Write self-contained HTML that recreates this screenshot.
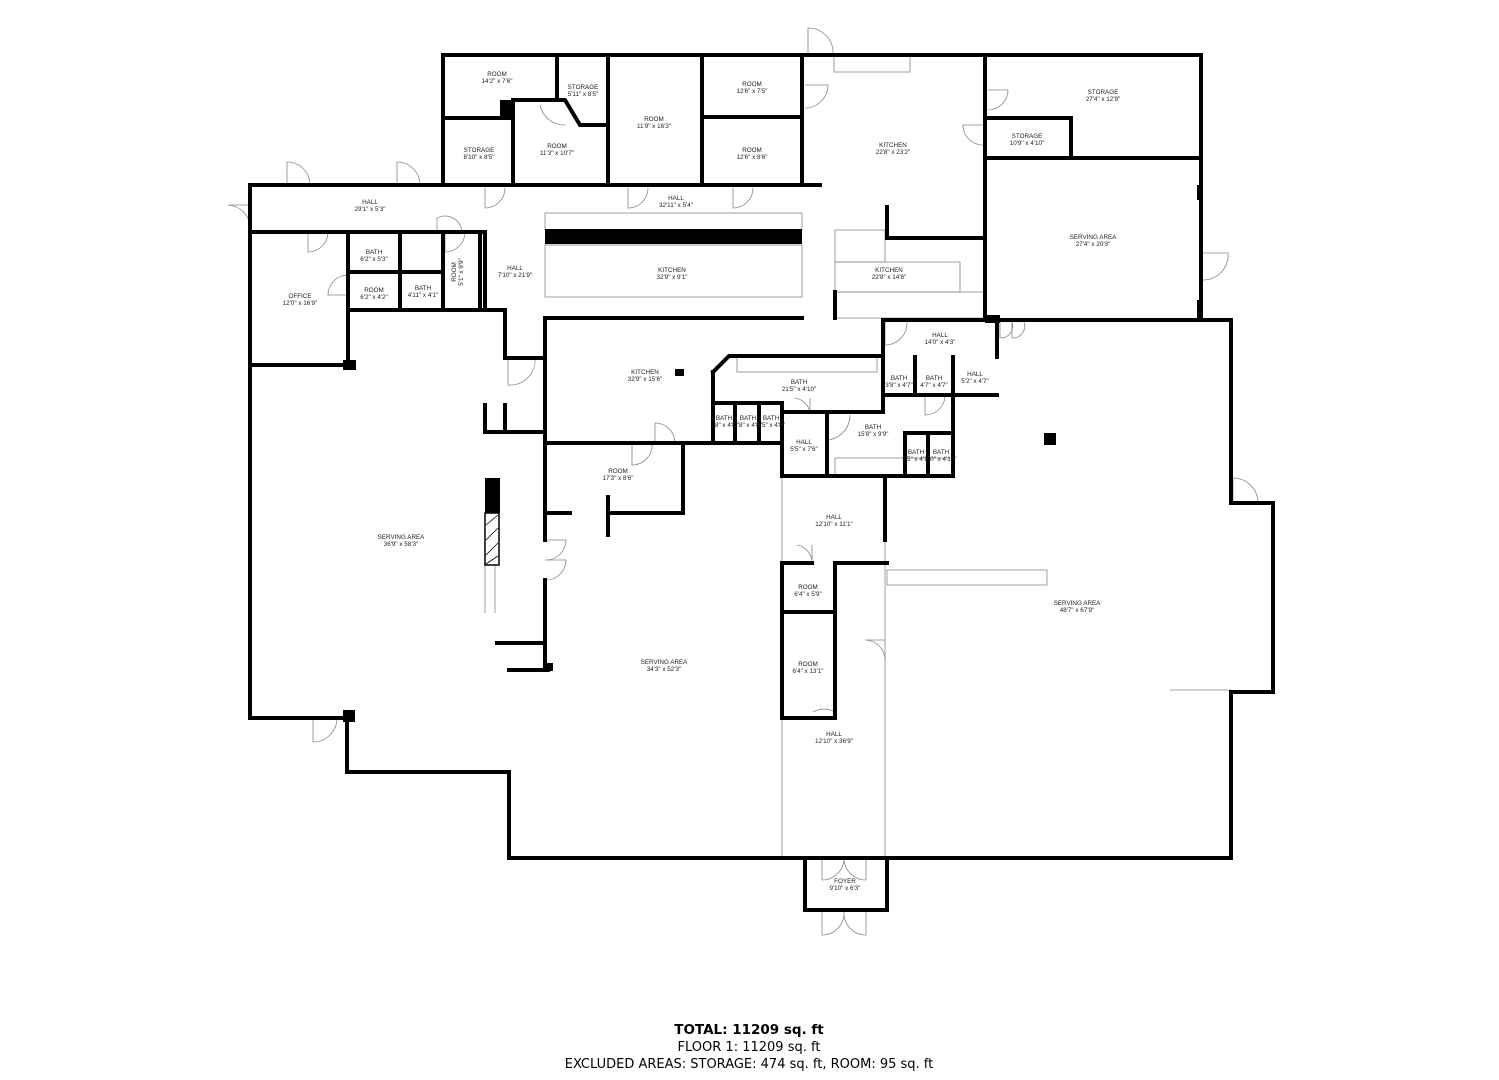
<!DOCTYPE html>
<html><head><meta charset="utf-8"><style>
html,body{margin:0;padding:0;background:#fff;width:1499px;height:1080px;overflow:hidden}
svg{position:absolute;left:0;top:0}
.w{fill:none;stroke:#000;stroke-width:4;stroke-linecap:square}
.t{fill:none;stroke:#888;stroke-width:0.8}
.l{font-family:"Liberation Sans",sans-serif;font-size:6.3px;fill:#222;text-anchor:middle}
.b{font-family:"DejaVu Sans",sans-serif;text-anchor:middle;fill:#000}
</style></head><body>
<svg width="1499" height="1080" viewBox="0 0 1499 1080">
<g class="t">
<path d="M287,185 V162 A23,23 0 0 1 310,185"/>
<path d="M397,185 V162 A23,23 0 0 1 420,185"/>
<path d="M250,205 H228 A23,23 0 0 1 250,228"/>
<path d="M485,188 V208 A20,20 0 0 0 505,188"/>
<path d="M628,188 V208 A20,20 0 0 0 648,188"/>
<path d="M733,188 V208 A20,20 0 0 0 753,188"/>
<path d="M808,55 V28 A25,25 0 0 1 833,55"/>
<path d="M805,85 H828 A23,23 0 0 1 805,108"/>
<path d="M988,90 H1008 A20,20 0 0 1 988,110"/>
<path d="M983,125 H963 A20,20 0 0 0 983,145"/>
<path d="M1203,253 H1228 A25,25 0 0 1 1203,280"/>
<path d="M1000,322 V338 A12,12 0 0 0 1012,322 M1012,322 V338 A12,12 0 0 0 1024,322"/>
<path d="M885,322 V345 A22,22 0 0 0 907,322"/>
<path d="M308,232 V252 A20,20 0 0 0 328,232"/>
<path d="M437,232 V218 A17,17 0 0 1 462,232"/>
<path d="M445,232 V252 A20,20 0 0 0 465,232"/>
<path d="M348,295 H328 A20,20 0 0 1 348,275"/>
<path d="M508,358 V385 A25,25 0 0 0 535,358"/>
<path d="M313,718 V742 A24,24 0 0 0 337,718"/>
<path d="M655,443 V423 A20,20 0 0 1 675,443"/>
<path d="M632,443 V465 A20,20 0 0 0 652,443"/>
<path d="M545,540 H566 A20,20 0 0 1 545,560 M545,560 H566 A20,20 0 0 1 545,580"/>
<path d="M812,545 V563 A18,18 0 0 0 797,545"/>
<path d="M885,640 H865 A20,20 0 0 1 885,660"/>
<path d="M835,690 V712 A22,22 0 0 0 813,712"/>
<path d="M1233,503 V478 A25,25 0 0 1 1258,503"/>
<path d="M822,860 V880 A22,22 0 0 0 844,860 M866,860 V880 A22,22 0 0 1 844,860"/>
<path d="M822,912 V935 A22,22 0 0 0 844,912 M866,912 V935 A22,22 0 0 1 844,912"/>
<path d="M925,397 V415 A20,20 0 0 0 945,397"/>
<path d="M810,398 V412 A18,18 0 0 0 795,398"/>
<path d="M827,415 V440 A25,25 0 0 0 850,415"/>
<path d="M540,105 A25,25 0 0 0 565,125"/>
<rect x="545" y="213" width="257" height="17"/>
<rect x="545" y="245" width="257" height="52"/>
<rect x="835" y="230" width="50" height="32"/>
<rect x="835" y="262" width="125" height="30"/>
<rect x="835" y="292" width="150" height="26"/>
<rect x="834" y="55" width="76" height="17"/>
<rect x="887" y="570" width="160" height="15"/>
<rect x="835" y="458" width="118" height="18"/>
<rect x="737" y="357" width="140" height="15"/>
<line x1="1170" y1="690" x2="1231" y2="690"/>
<line x1="485" y1="565" x2="485" y2="613"/><line x1="495" y1="565" x2="495" y2="613"/>
<line x1="782" y1="476" x2="782" y2="563"/><line x1="782" y1="718" x2="782" y2="858"/>
<line x1="885" y1="476" x2="885" y2="858"/>
</g>
<rect x="485" y="513" width="14" height="52" fill="none" stroke="#000" stroke-width="1.5"/>
<path d="M486,525 L498,515 M486,540 L498,528 M486,555 L498,543 M486,564 L498,556" stroke="#000" stroke-width="0.8"/>
<g fill="#000">
<rect x="545" y="229" width="257" height="15"/>
<rect x="500" y="100" width="15" height="18"/>
<rect x="485" y="478" width="15" height="35"/>
<rect x="343" y="360" width="13" height="10"/>
<rect x="343" y="710" width="12" height="12"/>
<rect x="545" y="663" width="8" height="8"/>
<rect x="1044" y="433" width="12" height="12"/>
<rect x="675" y="369" width="9" height="7"/>
<rect x="985" y="315" width="15" height="8"/>
<rect x="1197" y="185" width="6" height="15"/>
<rect x="1197" y="300" width="6" height="20"/>
</g>
<g class="w">
<path d="M443,185 V55 H1201 V320"/>
<path d="M443,118 H513 M557,55 V100 M513,100 V185 M513,100 H565 L580,125 H608"/>
<path d="M608,55 V185 M702,55 V185 M702,117 H802 M802,55 V185 H820"/>
<path d="M985,55 V320 M985,118 H1071 V158 M985,158 H1201"/>
<path d="M887,207 V238 H985 M835,292 V318"/>
<path d="M250,185 H812 M250,185 V718 H347 V772 H509 V858 H1231 V692 H1273 V503 H1231 V320 H997"/>
<path d="M805,858 V910 H887 V858"/>
<path d="M250,232 H485 M348,232 V365 M250,365 H350 M400,232 V310 M348,272 H443 M443,232 V310 M480,232 V310 M348,310 H505 V358 H545 M485,232 V310"/>
<path d="M545,318 H802 M545,318 V443 H782 M545,443 V540 M545,580 V666 M509,670 H548 M497,643 H545"/>
<path d="M683,443 V513 H610 M545,513 H570 M608,497 V535"/>
<path d="M485,405 V432 H545 M505,405 V432"/>
<path d="M713,372 L729,356 H883 V412 H783 M713,372 V443"/>
<path d="M735,403 V443 M759,403 V443 M782,403 V443 M713,403 H782"/>
<path d="M883,320 H997 V357 M883,320 V356 M883,395 H997 M915,357 V395 M953,357 V476 M883,395 V412"/>
<path d="M782,443 V476 H827 V412 M827,476 H953 M905,433 V476 M928,433 V476 M905,433 H953"/>
<path d="M782,563 V718 H835 V563 H887 M782,612 H835 M782,563 H812"/>
<path d="M885,476 V540"/>
</g>
<g class="l">
<text x="497" y="76">ROOM</text><text x="497" y="83">14'2" x 7'6"</text>
<text x="583" y="89">STORAGE</text><text x="583" y="96">5'11" x 8'5"</text>
<text x="654" y="121">ROOM</text><text x="654" y="128">11'9" x 16'3"</text>
<text x="752" y="86">ROOM</text><text x="752" y="93">12'6" x 7'5"</text>
<text x="752" y="152">ROOM</text><text x="752" y="159">12'6" x 8'6"</text>
<text x="479" y="152">STORAGE</text><text x="479" y="159">8'10" x 8'5"</text>
<text x="557" y="148">ROOM</text><text x="557" y="155">11'3" x 10'7"</text>
<text x="893" y="147">KITCHEN</text><text x="893" y="154">22'8" x 23'2"</text>
<text x="1103" y="94">STORAGE</text><text x="1103" y="101">27'4" x 12'9"</text>
<text x="1027" y="138">STORAGE</text><text x="1027" y="145">10'9" x 4'10"</text>
<text x="1093" y="239">SERVING AREA</text><text x="1093" y="246">27'4" x 20'3"</text>
<text x="370" y="204">HALL</text><text x="370" y="211">29'1" x 5'3"</text>
<text x="676" y="200">HALL</text><text x="676" y="207">32'11" x 5'4"</text>
<text x="672" y="272">KITCHEN</text><text x="672" y="279">32'9" x 9'1"</text>
<text x="889" y="272">KITCHEN</text><text x="889" y="279">22'8" x 14'8"</text>
<text x="515" y="270">HALL</text><text x="515" y="277">7'10" x 21'9"</text>
<text x="374" y="254">BATH</text><text x="374" y="261">6'2" x 5'3"</text>
<text x="374" y="292">ROOM</text><text x="374" y="299">6'2" x 4'2"</text>
<text x="423" y="290">BATH</text><text x="423" y="297">4'11" x 4'1"</text>
<text x="300" y="298">OFFICE</text><text x="300" y="305">12'0" x 16'9"</text>
<text transform="translate(456,272) rotate(-90)">ROOM</text><text transform="translate(463,272) rotate(-90)">5'1" x 9'9"</text>
<text x="645" y="374">KITCHEN</text><text x="645" y="381">32'9" x 15'6"</text>
<text x="940" y="337">HALL</text><text x="940" y="344">14'0" x 4'3"</text>
<text x="799" y="384">BATH</text><text x="799" y="391">21'5" x 4'10"</text>
<text x="899" y="380">BATH</text><text x="899" y="387">3'8" x 4'7"</text>
<text x="934" y="380">BATH</text><text x="934" y="387">4'7" x 4'7"</text>
<text x="975" y="376">HALL</text><text x="975" y="383">5'2" x 4'7"</text>
<text x="724" y="420">BATH</text><text x="724" y="427">2'8" x 4'8"</text>
<text x="748" y="420">BATH</text><text x="748" y="427">2'8" x 4'8"</text>
<text x="771" y="420">BATH</text><text x="771" y="427">2'5" x 4'8"</text>
<text x="873" y="429">BATH</text><text x="873" y="436">15'8" x 9'9"</text>
<text x="804" y="444">HALL</text><text x="804" y="451">5'5" x 7'6"</text>
<text x="916" y="454">BATH</text><text x="916" y="461">2'5" x 4'1"</text>
<text x="941" y="454">BATH</text><text x="941" y="461">3'0" x 4'10"</text>
<text x="618" y="473">ROOM</text><text x="618" y="480">17'3" x 8'6"</text>
<text x="401" y="539">SERVING AREA</text><text x="401" y="546">36'9" x 58'3"</text>
<text x="834" y="519">HALL</text><text x="834" y="526">12'10" x 11'1"</text>
<text x="808" y="589">ROOM</text><text x="808" y="596">6'4" x 5'9"</text>
<text x="808" y="666">ROOM</text><text x="808" y="673">6'4" x 13'1"</text>
<text x="664" y="664">SERVING AREA</text><text x="664" y="671">34'3" x 52'3"</text>
<text x="1077" y="605">SERVING AREA</text><text x="1077" y="612">48'7" x 67'9"</text>
<text x="834" y="736">HALL</text><text x="834" y="743">12'10" x 36'9"</text>
<text x="845" y="883">FOYER</text><text x="845" y="890">9'10" x 6'3"</text>
</g>
<text class="b" x="749" y="1034" font-size="13.5" font-weight="bold">TOTAL: 11209 sq. ft</text>
<text class="b" x="749" y="1051" font-size="13">FLOOR 1: 11209 sq. ft</text>
<text class="b" x="749" y="1068" font-size="13">EXCLUDED AREAS: STORAGE: 474 sq. ft, ROOM: 95 sq. ft</text>
</svg>
</body></html>
